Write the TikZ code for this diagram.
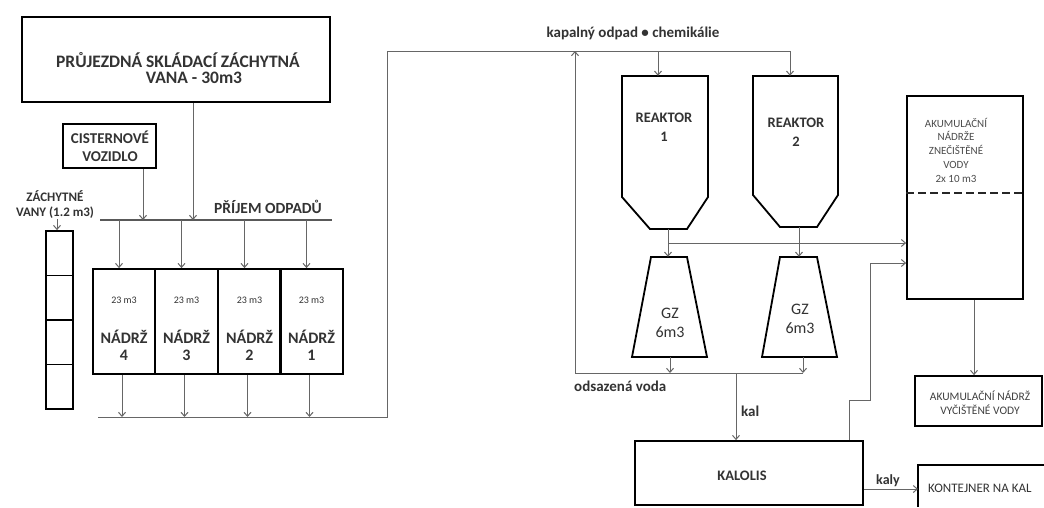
\documentclass[tikz,border=0pt]{standalone}
\usepackage{fontspec}
\setmainfont{Carlito}
\usetikzlibrary{arrows.meta,calc}
\begin{document}
\begin{tikzpicture}[x=1pt,y=-1pt,
  box/.style={draw=black,line width=1.8pt,inner sep=0pt},
  conn/.style={draw=black!60,line width=1pt},
  arr/.style={conn,-{Straight Barb[length=4pt,width=7pt]}},
  bus/.style={draw=black!65,line width=2.4pt},
  lbl/.style={inner sep=0pt,font=\bfseries\fontsize{#1}{#1}\selectfont,text=black!80},
  lbl/.default=13,
  rlbl/.style={inner sep=0pt,align=center,font=\fontsize{#1}{\dimexpr #1pt*6/5\relax}\selectfont,text=black!80},
  rlbl/.default=10]
\useasboundingbox[fill=white] (0,0) rectangle (1044,507);

% ---- top box
\node[box,minimum width=308pt,minimum height=85pt] (top) at (176,59.5) {};
\node[lbl=17.5] (t1) at (178,60) {PRŮJEZDNÁ SKLÁDACÍ ZÁCHYTNÁ};
\node[lbl=17.5] (t2) at (194,78) {VANA - 30m3};

% ---- cisternove vozidlo
\node[box,minimum width=93pt,minimum height=44pt] (cist) at (109.5,146) {};
\node[lbl=15,align=center] (cistt) at (110,146) {CISTERNOVÉ\\[3pt]VOZIDLO};

% ---- bus
\coordinate (busl) at (100,220);
\coordinate (busr) at (332,220);
\draw[bus] (busl) -- (busr);
\node[lbl=15.5] (prijem) at (268,207) {PŘÍJEM ODPADŮ};
\draw[arr] (top.south -| 193,0) -- (193,220);
\draw[arr] (cist.south -| 143,0) -- (143,220);

% ---- zachytne vany
\node[lbl=13,align=center] (zv) at (55,205) {ZÁCHYTNÉ\\[2pt]VANY (1.2 m3)};
\node[box,minimum width=27pt,minimum height=44.5pt] (v1) at (59.5,253.25) {};
\node[box,minimum width=27pt,minimum height=44.5pt] (v2) at (59.5,297.75) {};
\node[box,minimum width=27pt,minimum height=44.5pt] (v3) at (59.5,342.25) {};
\node[box,minimum width=27pt,minimum height=44.5pt] (v4) at (59.5,386.75) {};
\draw[arr] (zv.south -| 57,0) -- (v1.north -| 57,0);

% ---- nadrze
\foreach \n/\cx/\num in {n4/124/4,n3/186.5/3,n2/249.5/2,n1/311.5/1}{
  \node[box,minimum width=62.5pt,minimum height=105pt] (\n) at (\cx,321.5) {};
  \node[rlbl=10] (\n a) at (\cx,300) {23 m3};
  \node[lbl=16,align=center] (\n b) at (\cx,345) {NÁDRŽ\\[1pt]\num};
  \draw[arr] ([xshift=-5pt]\n.north |- busl) -- ([xshift=-5pt]\n.north);
  \draw[arr] ([xshift=-2pt]\n.south) -- ([xshift=-2pt]\n.south |- 0,417);
}

% ---- return line to reactors
\coordinate (bl) at (98,417);
\coordinate (br) at (387,417);
\coordinate (tl) at (387,51);
\coordinate (tr) at (790,51);
\draw[conn] (bl) -- (br) -- (tl) -- (tr);
\node[lbl=15] (kap) at (633,33) {kapalný odpad • chemikálie};

% ---- reactors
\node[inner sep=0pt,minimum width=86pt,minimum height=153pt] (r1) at (665,152.5) {};
\draw[box] (622,76) -- (708,76) -- (708,197) -- (687,229) -- (650,229) -- (622,197) -- cycle;
\node[lbl=14.5,align=center] (r1t) at (664,127) {REAKTOR\\[4pt]1};
\node[inner sep=0pt,minimum width=85pt,minimum height=151pt] (r2) at (795.5,151.5) {};
\draw[box] (753,76) -- (838,76) -- (838,195) -- (817,227) -- (780,227) -- (753,195) -- cycle;
\node[lbl=14.5,align=center] (r2t) at (796,132) {REAKTOR\\[4pt]2};
\draw[arr] (658,51) -- (r1.north -| 658,0);
\draw[arr] (tr) -- (r2.north -| 790,0);

% ---- GZ
\node[inner sep=0pt,minimum width=75pt,minimum height=100pt] (g1) at (669.5,307) {};
\draw[box] (651,257) -- (687,257) -- (707,357) -- (632,357) -- cycle;
\node[rlbl=16] (g1t) at (670,323) {GZ\\6m3};
\node[inner sep=0pt,minimum width=75pt,minimum height=100pt] (g2) at (799.5,307) {};
\draw[box] (780,257) -- (817,257) -- (837,357) -- (762,357) -- cycle;
\node[rlbl=16] (g2t) at (800,319) {GZ\\6m3};
\draw[arr] (r1.south -| 668,0) -- (g1.north -| 668,0);
\draw[arr] (r2.south -| 799,0) -- (g2.north -| 799,0);

% ---- akumulace znecistene vody
\node[box,minimum width=116pt,minimum height=203pt] (ak) at (965,197.5) {};
\draw[black!85,line width=2.4pt,dash pattern=on 8pt off 4pt] (ak.west |- 0,193) -- (ak.east |- 0,193);
\node[inner sep=0pt,align=center,font=\fontsize{11}{13.75}\selectfont,text=black!70] (akt) at (956,150) {AKUMULAČNÍ\\NÁDRŽE\\ZNEČIŠTĚNÉ\\VODY\\2x 10 m3};
\draw[arr] (668,243) -- (ak.west |- 0,243);

% ---- odsazena voda
\coordinate (ol) at (575,373);
\coordinate (or) at (803,373);
\draw[conn] (ol) -- (or);
\draw[arr] (ol) -- (575,51);
\draw[arr] (g1.south -| 670,0) -- (670,373);
\draw[arr] (g2.south -| 803,0) -- (or);
\node[lbl=15,anchor=west] (ov) at (574,386) {odsazená voda};

% ---- kalolis
\node[box,minimum width=228pt,minimum height=64pt] (kal) at (749,473) {};
\node[lbl=14.5] (kalt) at (742,476) {KALOLIS};
\draw[arr] (736,373) -- (kal.north -| 736,0);
\node[lbl=15,anchor=west] (kallbl) at (741,411) {kal};
\draw[arr] (kal.north -| 849,0) -- (849,400) -- (870,400) -- (870,263) -- (ak.west |- 0,263);

% ---- akumulace vycistene vody
\node[box,minimum width=127pt,minimum height=50pt] (ak2) at (978.5,401) {};
\node[rlbl=11.5,text=black!75] (ak2t) at (980,403) {AKUMULAČNÍ NÁDRŽ\\VYČIŠTĚNÉ VODY};
\draw[arr] (ak.south -| 974,0) -- (ak2.north -| 974,0);

% ---- kontejner
\coordinate (kon) at (918,489);
\draw[box] (1044,465) -- (918,465) -- (918,507);
\node[rlbl=13,anchor=west] (kont) at (928,488) {KONTEJNER NA KAL};
\draw[arr] (kal.east |- kon) -- (kon);
\node[lbl=14] (kaly) at (888,481) {kaly};
\end{tikzpicture}
\end{document}
